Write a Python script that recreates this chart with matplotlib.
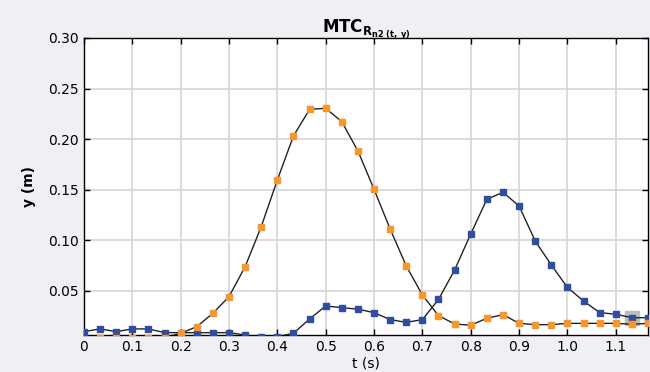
import matplotlib

matplotlib.use("Agg")
import matplotlib.pyplot as plt
import numpy as np

plt.rcParams["font.family"] = ["DejaVu Sans"]
plt.rcParams["mathtext.fontset"] = "dejavusans"

# frame times (s), 30 fps
t_blue = np.arange(36) / 30.0
t_orange = np.arange(1, 36) / 30.0

blue_y = [0.0098, 0.0125, 0.0098, 0.0125, 0.0125, 0.0088, 0.0088, 0.0088, 0.0088,
          0.0088, 0.0065, 0.0048, 0.0048, 0.0082, 0.0223, 0.0352, 0.0335, 0.0320,
          0.0286, 0.0217, 0.0190, 0.0217, 0.0416, 0.0707, 0.1063, 0.1406, 0.1475,
          0.1340, 0.0994, 0.0757, 0.0535, 0.0401, 0.0286, 0.0270, 0.0236, 0.0236]

orange_y = [0.0039, 0.0039, 0.0039, 0.0039, 0.0040, 0.0082, 0.0147, 0.0280,
            0.0444, 0.0740, 0.1136, 0.1597, 0.2032, 0.2295, 0.2305, 0.2173,
            0.1883, 0.1505, 0.1112, 0.0747, 0.0460, 0.0256, 0.0174, 0.0161,
            0.0230, 0.0266, 0.0180, 0.0167, 0.0167, 0.0180, 0.0180, 0.0180,
            0.0180, 0.0171, 0.0180]

selected = 34  # highlighted frame on the blue series

x_ticks = [0, 0.1, 0.2, 0.3, 0.4, 0.5, 0.6, 0.7, 0.8, 0.9, 1.0, 1.1]
x_labels = ["0", "0.1", "0.2", "0.3", "0.4", "0.5", "0.6", "0.7", "0.8", "0.9", "1.0", "1.1"]
y_ticks = [0.05, 0.10, 0.15, 0.20, 0.25, 0.30]
y_labels = ["0.05", "0.10", "0.15", "0.20", "0.25", "0.30"]

BLUE = "#2f4f9e"
ORANGE = "#f7962a"

fig = plt.figure(figsize=(6.5, 3.72), dpi=100, facecolor="#f0f0f4")
ax = fig.add_axes([0.1292, 0.0995, 0.8677, 0.7984])
ax.set_facecolor("white")

ax.plot(t_blue[selected], blue_y[selected], marker="s", ms=9.5, color="#bdbdbd",
        linestyle="none", zorder=2)
ax.plot(t_blue, blue_y, color="#222222", lw=1.0, marker="s", ms=4.5,
        mfc=BLUE, mec=BLUE, zorder=3)
ax.plot(t_orange, orange_y, color="#222222", lw=1.0, marker="s", ms=4.5,
        mfc=ORANGE, mec=ORANGE, zorder=4)

ax.set_xlim(0, 35 / 30.0)
ax.set_ylim(0.0065, 0.30)
ax.set_xticks(x_ticks)
ax.set_xticklabels(x_labels)
ax.set_yticks(y_ticks)
ax.set_yticklabels(y_labels)
ax.tick_params(direction="in", length=4, width=1, labelsize=10,
               top=True, right=True, colors="black")
ax.grid(True, color="#d6d6d6", linewidth=1.2)
ax.set_axisbelow(True)
for sp in ax.spines.values():
    sp.set_color("black")
    sp.set_linewidth(1.0)

ax.set_xlabel("t (s)", fontsize=10, labelpad=2)
ax.set_ylabel("y (m)", fontsize=10, fontweight="bold", labelpad=9)
ax.set_title(r"$\mathbf{MTC}_{\mathbf{R}_{\mathbf{n2\ (t,\ y)}}}$", fontsize=12, pad=4)

fig.savefig("out.png", dpi=100, facecolor=fig.get_facecolor())
